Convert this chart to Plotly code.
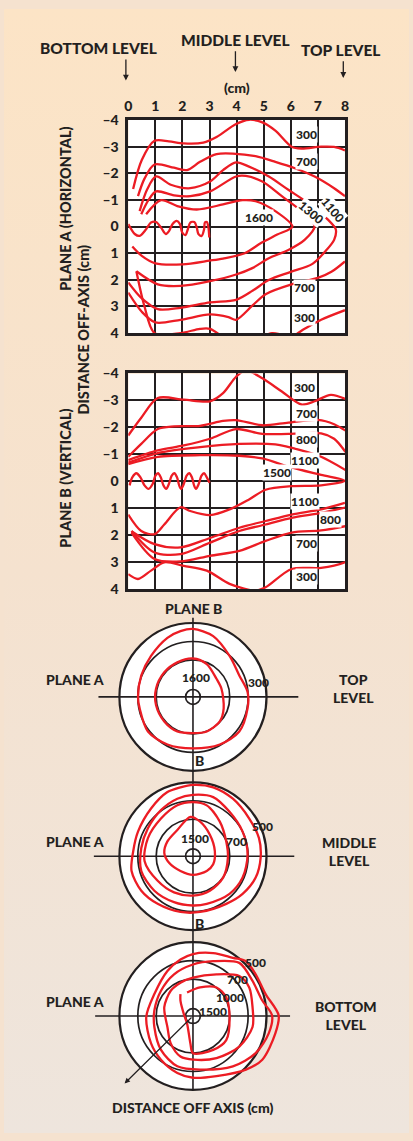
import base64
import plotly.graph_objects as go

W, H = 413, 1141
RED = "#EC1C24"
INK = "#231F20"
FONT = "Lato"

# ---------------- Depth profiles: x = cm along the source, y = cm off-axis ----------------
ALONG_TICKS = [0, 1, 2, 3, 4, 5, 6, 7, 8]
OFFAXIS_TICKS = [-4, -3, -2, -1, 0, 1, 2, 3, 4]
OFFAXIS_TEXT = ["–4", "–3", "–2", "–1", "0", "1", "2", "3", "4"]

# Plane A (horizontal)
A300_TOP_X = [0.18, 0.5, 0.97, 1.5, 2.05, 2.77, 3.26, 3.98, 4.46, 4.95, 5.43, 6.03, 6.39, 7.12, 7.6, 8.0]
A300_TOP_Y = [-1.41, -2.5, -3.22, -3.2, -3.12, -3.15, -3.36, -3.85, -4.01, -3.91, -3.6, -3.0, -2.93, -3.0, -2.99, -2.86]
A700_TOP_X = [0.36, 0.6, 0.97, 1.69, 2.17, 2.65, 3.26, 3.86, 4.7, 5.43, 6.15, 6.88, 7.6, 8.0]
A700_TOP_Y = [-1.14, -1.8, -2.33, -2.21, -2.12, -2.43, -2.72, -2.74, -2.64, -2.43, -2.19, -1.88, -1.44, -1.14]
A1100_X = [0.42, 0.7, 1.03, 1.57, 2.29, 3.02, 3.5, 3.98, 4.46, 5.19, 5.91, 6.63, 7.36, 7.66,
           7.6, 7.3, 6.8, 6.0, 5.2, 4.6, 3.98, 3.02, 1.93, 1.09, 0.5, 0.0]
A1100_Y = [-0.58, -1.4, -1.88, -1.57, -1.44, -1.69, -2.12, -2.41, -2.25, -1.88, -1.38, -0.89, -0.27, 0.1,
           0.5, 0.9, 1.4, 1.7, 2.0, 2.4, 2.75, 2.85, 3.05, 3.1, 2.7, 2.1]
A1300_X = [0.48, 0.75, 1.03, 1.69, 2.29, 3.02, 3.98, 4.34, 4.95, 5.67, 6.39, 6.88,
           6.51, 5.91, 5.19, 4.58, 3.98, 3.02, 1.93, 1.09, 0.3]
A1300_Y = [-0.46, -1.0, -1.32, -1.17, -1.14, -1.32, -1.88, -1.9, -1.69, -1.14, -0.58, -0.02,
           0.5, 0.88, 1.19, 1.56, 1.8, 2.05, 2.23, 2.17, 1.68]
A1600_X = [0.66, 1.21, 1.81, 2.53, 3.5, 4.22, 4.7, 5.43, 6.06,
           5.5, 4.9, 4.3, 3.5, 3.0, 2.0, 1.0, 0.5, 0.15]
A1600_Y = [-0.46, -0.99, -0.77, -0.64, -0.83, -0.99, -0.95, -0.58, 0.0,
           0.3, 0.62, 1.0, 1.2, 1.28, 1.42, 1.38, 1.1, 0.75]
A700_BOT_X = [0.0, 0.5, 1.0, 1.93, 3.02, 3.7, 3.98, 4.58, 5.07, 6.03, 7.0, 7.5, 8.0]
A700_BOT_Y = [2.48, 3.2, 3.6, 3.5, 3.3, 3.4, 3.5, 2.97, 2.54, 2.17, 1.93, 1.7, 1.31]
A300_BOT_X = [0.3, 0.6, 0.97, 1.93, 2.65, 3.02, 3.5, 4.04, 4.7, 5.31, 6.03, 6.51, 7.12, 8.0]
A300_BOT_Y = [1.68, 3.0, 4.0, 4.0, 3.84, 3.84, 4.15, 4.46, 4.25, 4.0, 4.12, 3.84, 3.5, 3.14]
A_SOURCE_X = [0.0, 0.24, 0.42, 0.66, 0.84, 1.03, 1.21, 1.39, 1.51, 1.63, 1.79, 1.91, 1.99, 2.11, 2.2,
              2.29, 2.44, 2.53, 2.59, 2.71, 2.8, 2.83, 2.9, 2.96, 2.99]
A_SOURCE_Y = [-0.09, 0.28, 0.35, 0.1, -0.15, -0.17, 0.04, 0.28, 0.16, -0.09, -0.21, -0.09, 0.22, 0.32, 0.1,
              -0.15, -0.17, 0.04, 0.28, 0.35, 0.1, -0.15, -0.17, 0.04, 0.41]

# Plane B (vertical)
B300_TOP_X = [0.0, 0.48, 1.09, 2.05, 3.02, 3.5, 3.98, 4.34, 4.95, 5.67, 6.39, 6.88, 7.48, 8.18]
B300_TOP_Y = [-1.7, -2.36, -3.09, -3.03, -2.97, -3.27, -3.88, -4.12, -3.82, -3.33, -2.85, -2.97, -3.21, -2.99]
B700_TOP_X = [0.0, 0.48, 1.09, 1.69, 2.65, 3.5, 3.98, 4.95, 5.91, 7.0, 7.6, 8.18]
B700_TOP_Y = [-0.91, -1.39, -1.94, -2.04, -2.06, -2.24, -2.27, -2.08, -2.18, -2.28, -2.12, -1.78]
B800_TOP_X = [0.0, 1.09, 2.05, 3.02, 3.98, 4.95, 5.91, 7.12, 7.6, 8.02]
B800_TOP_Y = [-0.79, -1.15, -1.33, -1.58, -1.94, -1.76, -1.76, -1.78, -1.58, -1.09]
B1100_TOP_X = [0.0, 1.09, 2.65, 4.1, 5.43, 6.39, 7.12, 8.02]
B1100_TOP_Y = [-0.69, -1.05, -1.27, -1.39, -1.37, -1.15, -0.91, -0.42]
B1500_X = [0.0, 1.09, 2.65, 4.1, 4.95, 5.91, 7.12, 8.0,
           7.12, 6.03, 5.07, 4.46, 3.74, 3.02, 2.29, 1.93, 1.33, 0.97, 0.48, 0.0]
B1500_Y = [-0.64, -0.91, -0.97, -0.95, -0.85, -0.55, -0.24, -0.02,
           0.15, 0.18, 0.31, 0.67, 1.04, 1.25, 1.1, 0.96, 1.6, 1.96, 1.84, 1.23]
B1100_BOT_X = [0.12, 0.97, 1.93, 3.02, 4.1, 5.07, 6.03, 7.12, 8.0]
B1100_BOT_Y = [1.85, 2.33, 2.45, 2.1, 1.72, 1.47, 1.23, 1.04, 0.8]
B800_BOT_X = [0.12, 0.97, 1.93, 3.02, 4.1, 5.07, 6.03, 7.12, 8.1]
B800_BOT_Y = [1.84, 2.64, 2.7, 2.27, 1.84, 1.6, 1.35, 1.17, 0.95]
B700_BOT_X = [0.12, 0.97, 1.93, 3.02, 4.1, 5.07, 6.03, 7.12, 8.02]
B700_BOT_Y = [1.9, 2.88, 2.97, 2.76, 2.58, 2.21, 1.9, 1.82, 1.66]
B300_BOT_X = [0.0, 0.36, 0.84, 1.33, 2.05, 2.9, 3.74, 4.7, 5.07, 6.03, 7.12, 8.0, 8.32]
B300_BOT_Y = [3.44, 3.62, 3.31, 3.0, 3.13, 3.31, 3.8, 4.05, 3.93, 3.25, 3.21, 3.0, 2.82]
B_SOURCE_X = [0.05, 0.15, 0.3, 0.45, 0.6, 0.75, 0.9, 1.0, 1.1, 1.2, 1.3, 1.4, 1.5, 1.6, 1.7, 1.8,
              1.88, 1.95, 2.05, 2.15, 2.25, 2.35, 2.43, 2.5, 2.6, 2.7, 2.8, 2.9, 3.0]
B_SOURCE_Y = [0.15, -0.15, -0.3, -0.15, 0.15, 0.28, 0.1, -0.2, -0.3, -0.15, 0.15, 0.28, 0.1, -0.2, -0.3, -0.15,
              0.15, 0.28, 0.1, -0.2, -0.3, -0.15, 0.15, 0.28, 0.1, -0.2, -0.3, -0.15, 0.05]

# ---------------- Cross-sections: x = plane A offset (cm), y = plane B offset (cm) ----------------
RING_RADII = [4, 3, 2]
CORE_RADIUS = 0.4

TOP300_X = [0, 1.10, 1.99, 2.52, 2.97, 2.97, 2.52, 1.46, 0, -1.39, -2.45, -2.9, -2.99, -2.81, -2.28, -1.39, -0.68, 0]
TOP300_Y = [3.68, 3.29, 2.22, 1.16, 0.27, -0.62, -1.87, -2.58, -2.79, -2.58, -1.87, -0.62, 0, 1.16, 2.22, 3.2, 3.56, 3.68]
TOP1600_X = [0, 0.75, 1.28, 1.55, 1.67, 1.46, 0.75, 0, -0.85, -1.56, -2.01, -2.01, -1.56, -0.85, 0]
TOP1600_Y = [2.08, 1.78, 0.98, 0.44, -0.62, -1.33, -1.87, -1.96, -1.87, -1.33, -0.44, 0.44, 1.33, 1.87, 2.08]

MID500_X = [0, 1.10, 2.17, 3.06, 3.59, 3.68, 3.41, 2.70, 1.81, 0.39, -0.68, -1.92, -2.81, -3.34, -3.25, -2.99, -2.28, -1.39, -0.68, 0]
MID500_Y = [3.86, 3.73, 3.11, 2.04, 0.98, -0.09, -1.16, -2.04, -2.58, -3.02, -3.02, -2.58, -1.87, -0.8, 0.27, 1.33, 2.58, 3.47, 3.73, 3.86]
MID600_X = [0, 1.10, 1.99, 2.70, 2.97, 2.70, 1.99, 0.75, 0, -1.03, -2.10, -2.81, -2.81, -2.45, -1.74, -0.85, 0]
MID600_Y = [3.32, 3.2, 2.4, 1.33, 0.09, -1.16, -2.04, -2.58, -2.67, -2.49, -1.87, -0.8, 0.44, 1.51, 2.49, 3.11, 3.32]
MID700_X = [0, 0.75, 1.46, 1.81, 1.9, 1.64, 0.92, 0, -1.03, -1.92, -2.63, -2.45, -1.74, -0.85, 0]
MID700_Y = [2.93, 2.75, 1.87, 0.8, -0.09, -1.16, -1.87, -2.13, -1.96, -1.33, -0.27, 0.98, 2.04, 2.76, 2.93]
MID1500_X = [-0.14, 0.39, 0.92, 1.19, 1.1, 0.75, 0, -0.68, -1.3, -1.56, -1.39, -0.85, -0.14]
MID1500_Y = [2.13, 1.87, 1.16, 0.27, -0.44, -0.8, -1.01, -0.8, -0.36, 0.18, 0.8, 1.42, 2.13]

BOT500_X = [0, 1.10, 2.17, 2.88, 3.41, 3.95, 4.66, 4.48, 3.77, 2.88, 1.28, 0, -0.85, -1.74, -2.28, -2.54, -2.1, -1.39, -0.68, 0]
BOT500_Y = [3.36, 3.41, 3.15, 2.97, 2.26, 1.19, 0.04, -0.94, -2.36, -2.9, -3.25, -3.34, -3.08, -2.36, -1.48, -0.05, 1.19, 2.44, 3.06, 3.36]
BOT700_X = [0, 1.1, 2.52, 3.24, 3.77, 4.3, 4.12, 3.41, 2.17, 0.39, -0.85, -1.74, -2.1, -2.1, -1.74, -1.03, 0]
BOT700_Y = [2.79, 2.97, 2.88, 1.9, 0.84, 0.04, -0.94, -2.01, -2.72, -2.9, -2.72, -1.83, -0.59, 0.3, 1.37, 2.26, 2.79]
BOT1000_X = [0, 1.28, 2.52, 3.06, 3.24, 3.24, 2.52, 1.28, 0.04, -0.68, -1.21, -1.39, -1.56, -1.21, -0.68, 0]
BOT1000_Y = [2.08, 2.26, 2.17, 1.55, 0.48, -0.59, -1.65, -2.28, -2.36, -2.19, -1.48, -0.59, 0.48, 1.37, 1.81, 2.08]
BOT1500_X = [-0.32, 0.39, 1.28, 1.81, 1.99, 1.81, 1.1, 0, -0.14, -0.32, -0.5, -0.68, -0.68]
BOT1500_Y = [1.28, 1.55, 1.55, 1.01, -0.05, -1.3, -1.83, -2.01, -1.48, -0.41, 0.12, 0.84, 1.19]


def fx(px):
    return px / W


def fy(py):
    return 1 - py / H


# layout of the cross-section panel (one shared axis pair, cm units)
PX_PER_CM = 18.75
AXIS_PX_X = 192.7
TOP_CENTER_PX = 698.3
LEVEL_CENTER_PX = [698.3, 860.0, 1022.3]
LEVEL_OFFSET = [(TOP_CENTER_PX - p) / PX_PER_CM for p in LEVEL_CENTER_PX]
PANEL_TOP_PX = 600

fig = go.Figure()


def red_line(x, y, xa, ya, dy=0.0):
    fig.add_trace(go.Scatter(
        x=x, y=[v + dy for v in y], mode="lines",
        line=dict(color=RED, width=2.3, shape="spline", smoothing=0.85),
        xaxis=xa, yaxis=ya, hoverinfo="skip", showlegend=False))


for xs, ys in [(A300_TOP_X, A300_TOP_Y), (A700_TOP_X, A700_TOP_Y), (A1100_X, A1100_Y),
               (A1300_X, A1300_Y), (A1600_X, A1600_Y), (A700_BOT_X, A700_BOT_Y),
               (A300_BOT_X, A300_BOT_Y), (A_SOURCE_X, A_SOURCE_Y)]:
    red_line(xs, ys, "x", "y")

for xs, ys in [(B300_TOP_X, B300_TOP_Y), (B700_TOP_X, B700_TOP_Y), (B800_TOP_X, B800_TOP_Y),
               (B1100_TOP_X, B1100_TOP_Y), (B1500_X, B1500_Y), (B1100_BOT_X, B1100_BOT_Y),
               (B800_BOT_X, B800_BOT_Y), (B700_BOT_X, B700_BOT_Y), (B300_BOT_X, B300_BOT_Y),
               (B_SOURCE_X, B_SOURCE_Y)]:
    red_line(xs, ys, "x2", "y2")

for (xs, ys), off in [((TOP300_X, TOP300_Y), LEVEL_OFFSET[0]), ((TOP1600_X, TOP1600_Y), LEVEL_OFFSET[0]),
                      ((MID500_X, MID500_Y), LEVEL_OFFSET[1]), ((MID600_X, MID600_Y), LEVEL_OFFSET[1]),
                      ((MID700_X, MID700_Y), LEVEL_OFFSET[1]), ((MID1500_X, MID1500_Y), LEVEL_OFFSET[1]),
                      ((BOT500_X, BOT500_Y), LEVEL_OFFSET[2]), ((BOT700_X, BOT700_Y), LEVEL_OFFSET[2]),
                      ((BOT1000_X, BOT1000_Y), LEVEL_OFFSET[2]), ((BOT1500_X, BOT1500_Y), LEVEL_OFFSET[2])]:
    red_line(xs, ys, "x3", "y3", off)

tickfont = dict(family=FONT, size=14, color=INK, weight=900)
grid_axis = dict(range=[0, 8], tickvals=ALONG_TICKS, showgrid=True, gridcolor=INK, gridwidth=1.6,
                 showline=True, mirror=True, linecolor=INK, linewidth=2.6, zeroline=False,
                 ticks="", tickfont=tickfont, fixedrange=True)
grid_yaxis = dict(range=[4, -4], tickvals=OFFAXIS_TICKS, ticktext=OFFAXIS_TEXT, showgrid=True,
                  gridcolor=INK, gridwidth=1.6, showline=True, mirror=True, linecolor=INK,
                  linewidth=2.6, zeroline=False, ticks="", tickfont=tickfont, ticklabelstandoff=4,
                  fixedrange=True)

fig.update_layout(
    xaxis=dict(grid_axis, domain=[fx(126.7), fx(347.7)], side="top", anchor="y", ticklabelstandoff=1),
    yaxis=dict(grid_yaxis, domain=[fy(329), fy(112.7)], anchor="x"),
    xaxis2=dict(grid_axis, domain=[fx(126.7), fx(347.7)], anchor="y2", showticklabels=False),
    yaxis2=dict(grid_yaxis, domain=[fy(589), fy(370)], anchor="x2"),
    xaxis3=dict(domain=[0, 1], anchor="y3", visible=False, fixedrange=True,
                range=[(0 - AXIS_PX_X) / PX_PER_CM, (W - AXIS_PX_X) / PX_PER_CM]),
    yaxis3=dict(domain=[0, fy(PANEL_TOP_PX)], anchor="x3", visible=False, fixedrange=True,
                range=[(TOP_CENTER_PX - H) / PX_PER_CM, (TOP_CENTER_PX - PANEL_TOP_PX) / PX_PER_CM]),
)

shapes = []
# white fields behind the grids
for xr, yr in [("x", "y"), ("x2", "y2")]:
    shapes.append(dict(type="rect", xref=xr, yref=yr, x0=0, x1=8, y0=-4, y1=4,
                       fillcolor="white", line=dict(width=0), layer="below"))

# cross-section targets
HLINE_SPAN = [(-5.14, 5.73), (-5.39, 5.51), (-5.32, 5.28)]
for off in LEVEL_OFFSET:
    r = RING_RADII[0]
    shapes.append(dict(type="circle", xref="x3", yref="y3", x0=-r, x1=r, y0=off - r, y1=off + r,
                       fillcolor="white", line=dict(color=INK, width=2.2), layer="below"))
for off, (x0, x1) in zip(LEVEL_OFFSET, HLINE_SPAN):
    shapes.append(dict(type="line", xref="x3", yref="y3", x0=x0, x1=x1, y0=off, y1=off,
                       line=dict(color=INK, width=1.6), layer="below"))
shapes.append(dict(type="line", xref="x3", yref="y3", x0=0, x1=0,
                   y0=(TOP_CENTER_PX - 1097) / PX_PER_CM, y1=(TOP_CENTER_PX - 618) / PX_PER_CM,
                   line=dict(color=INK, width=1.6), layer="below"))
for off in LEVEL_OFFSET:
    for r in RING_RADII[1:] + [CORE_RADIUS]:
        shapes.append(dict(type="circle", xref="x3", yref="y3", x0=-r, x1=r, y0=off - r, y1=off + r,
                           line=dict(color=INK, width=1.7), layer="below"))
fig.update_layout(shapes=shapes)

ann = []


def label(text, x, y, size=13, xref="paper", yref="paper", angle=0, bg=None, **kw):
    d = dict(text=text, x=x, y=y, xref=xref, yref=yref, showarrow=False, textangle=angle,
             xanchor="center", yanchor="middle",
             font=dict(family=FONT, size=size, color=INK, weight=900))
    if bg:
        d.update(bgcolor=bg, borderpad=0)
    d.update(kw)
    ann.append(d)


# headers
label("BOTTOM LEVEL", fx(96.7), fy(40), 15.5)
label("MIDDLE LEVEL", fx(236), fy(31.5), 15.5)
label("TOP LEVEL", fx(343), fy(42), 15.5)
label("(cm)", fx(237.7), fy(80), 14)
for hx, y0, y1 in [(124.3, 50, 72.7), (236, 41.7, 64), (346, 51.7, 70)]:
    ann.append(dict(x=fx(hx), y=fy(y1), xref="paper", yref="paper", ax=0, ay=-(y1 - y0),
                    showarrow=True, arrowhead=2, arrowsize=0.9, arrowwidth=1.3, arrowcolor=INK, text=""))

label("PLANE A (HORIZONTAL)", fx(63), fy(203), 14.5, angle=-90)
label("DISTANCE OFF-AXIS (cm)", fx(81), fy(325), 14.5, angle=-90)
label("PLANE B (VERTICAL)", fx(63), fy(476), 14.5, angle=-90)

# dose labels on the profiles
for t, x, y, a in [("300", 6.57, -3.47, 0), ("700", 6.57, -2.43, 0), ("1600", 4.83, -0.33, 0),
                   ("1300", 6.75, -0.52, 40), ("1100", 7.54, -0.64, 50),
                   ("700", 6.51, 2.29, 0), ("300", 6.51, 3.42, 0)]:
    label(t, x, y, 12, "x", "y", angle=a, bg="white")
for t, x, y in [("300", 6.51, -3.49), ("700", 6.57, -2.52), ("800", 6.57, -1.54), ("1100", 6.51, -0.77),
                ("1500", 5.49, -0.33), ("1100", 6.51, 0.73), ("800", 7.46, 1.4), ("700", 6.57, 2.31),
                ("300", 6.57, 3.53)]:
    label(t, x, y, 12, "x2", "y2", bg="white")

# cross-section labels
label("PLANE B", fx(193), fy(609), 14)
for i, (name, cy) in enumerate([("TOP<br>LEVEL", 690), ("MIDDLE<br>LEVEL", 855), ("BOTTOM<br>LEVEL", 1022)]):
    label(name, fx([356, 352, 349][i]), fy(cy), 14)
for py in [680.7, 845, 1007.7]:
    label("PLANE A", fx(72), fy(py), 14)
label("B", fx(199.5), fy(763), 14)
label("B", fx(199.5), fy(928), 14)
for t, x, y, lvl in [("1600", 0.18, 1.07, 0), ("300", 3.55, 0.8, 0),
                     ("1500", 0.12, 0.98, 1), ("700", 2.35, 0.8, 1), ("500", 3.77, 1.6, 1),
                     ("500", 3.41, 2.88, 2), ("700", 2.43, 1.99, 2), ("1000", 1.99, 0.98, 2),
                     ("1500", 1.1, 0.27, 2)]:
    label(t, x, y + LEVEL_OFFSET[lvl], 12, "x3", "y3")
ann.append(dict(x=-3.72, y=LEVEL_OFFSET[2] - 3.65, ax=0, ay=LEVEL_OFFSET[2], xref="x3", yref="y3",
                axref="x3", ayref="y3", showarrow=True, arrowhead=2, arrowsize=0.9, arrowwidth=1.2,
                arrowcolor=INK, text=""))
label("DISTANCE OFF AXIS (cm)", fx(192.5), fy(1115.5), 14)
fig.update_layout(annotations=ann)

# warm paper background
svg = ('<svg xmlns="http://www.w3.org/2000/svg" width="413" height="1141">'
       '<defs><linearGradient id="g" x1="0" y1="0" x2="0" y2="1">'
       '<stop offset="0" stop-color="#FCE4C6"/><stop offset="0.5" stop-color="#F5E2CF"/>'
       '<stop offset="1" stop-color="#EEE5DD"/></linearGradient></defs>'
       '<rect width="413" height="1141" fill="url(#g)"/></svg>')
fig.add_layout_image(dict(source="data:image/svg+xml;base64," + base64.b64encode(svg.encode()).decode(),
                          xref="paper", yref="paper", x=0, y=1, sizex=1, sizey=1,
                          sizing="stretch", xanchor="left", yanchor="top", layer="below"))

fig.update_layout(width=W, height=H, margin=dict(l=0, r=0, t=0, b=0), autosize=False,
                  paper_bgcolor="#F5E2CF", plot_bgcolor="rgba(0,0,0,0)", showlegend=False)

fig.write_html("out.html",
               post_script="document.body.style.margin='0';document.body.style.overflow='hidden';")
